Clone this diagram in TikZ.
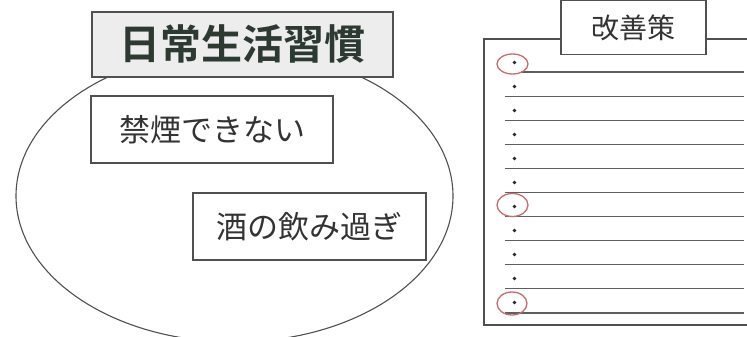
\documentclass[tikz,border=0pt]{standalone}
\usepackage{fontspec}
\newfontfamily\jpfont{Noto Sans CJK JP}
\newfontfamily\jpbold{Noto Sans CJK JP Bold}
\usetikzlibrary{shapes.geometric}
\definecolor{txt}{HTML}{333333}
\definecolor{ttl}{HTML}{2D3A32}
\definecolor{edge}{HTML}{505050}
\definecolor{rule}{HTML}{5E5E5E}
\definecolor{ring}{HTML}{C86A6E}
\definecolor{ttlfill}{HTML}{EDEDED}
\tikzset{
  labelbox/.style={draw=edge, line width=1.2pt, fill=white, rectangle, inner sep=0pt, text=txt},
  rulel/.style={draw=rule, line width=1.1pt},
  dotm/.style={circle, fill=black!85, inner sep=0pt, minimum size=3.6pt},
  ringm/.style={draw=ring, line width=1.3pt}
}
\begin{document}
\begin{tikzpicture}[x=1pt,y=-1pt]
\useasboundingbox (0,0) rectangle (747,337);
\clip (0,0) rectangle (747,337);
\fill[white] (0,0) rectangle (747,337);
% left part
\node[ellipse, draw=edge, line width=1.1pt, minimum width=437pt, minimum height=292pt, inner sep=0pt] (oval) at (234.5,196) {};
\node[labelbox, fill=ttlfill, minimum width=301pt, minimum height=65pt, text=ttl, font=\jpbold\fontsize{41}{41}\selectfont] (title) at (242.5,44.5) {日常生活習慣};
\node[labelbox, minimum width=242pt, minimum height=67pt, font=\jpfont\fontsize{31}{31}\selectfont] (smoke) at (212,129.5) {禁煙できない};
\node[labelbox, minimum width=233pt, minimum height=67pt, font=\jpfont\fontsize{31}{31}\selectfont] (drink) at (309.5,226.5) {酒の飲み過ぎ};
% right part
\draw[draw=edge, line width=1.5pt] (760,39) -- (484,39) -- (484,325) -- (760,325);
\node[labelbox, minimum width=145pt, minimum height=54pt, font=\jpfont\fontsize{28}{28}\selectfont] (plan) at (633.5,27.5) {改善策};
\draw[rulel] (521,72) -- (744,72);
\foreach \i in {1,...,10} {
  \draw[rulel] (505,72+24.1*\i) -- (744,72+24.1*\i);
}
\foreach \i in {0,...,10} {
  \node[dotm] (d\i) at (514.5,62.5+24*\i) {};
}
\draw[ringm] (512.5,64) ellipse [x radius=15.5pt, y radius=10pt];
\draw[ringm] (512.5,205) ellipse [x radius=15.5pt, y radius=11.5pt];
\draw[ringm] (512,303.5) ellipse [x radius=15pt, y radius=11.5pt];
\end{tikzpicture}
\end{document}
